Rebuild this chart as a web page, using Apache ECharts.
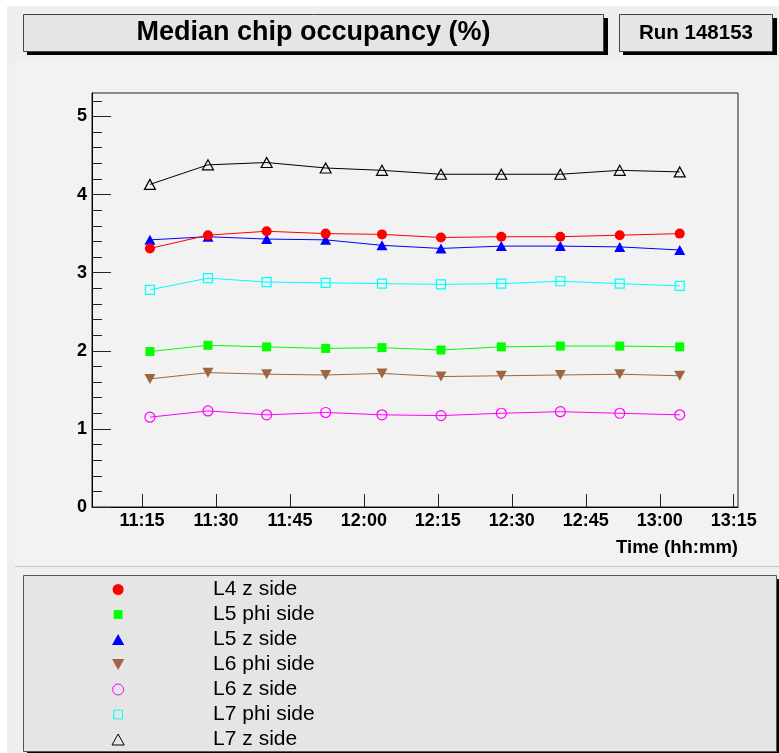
<!DOCTYPE html>
<html>
<head>
<meta charset="utf-8">
<title>Median chip occupancy (%)</title>
<script src="https://cdn.jsdelivr.net/npm/echarts@6/dist/echarts.min.js"></script>
<style>
  html, body { margin: 0; padding: 0; background: #ffffff; }
  #chart { width: 779px; height: 753px; }
</style>
</head>
<body>
<div id="chart"></div>
<script>
// Sampling times (hh:mm:ss) of the monitoring runs
const sampleTimes = ['11:16:37', '11:28:23', '11:40:17', '11:52:15', '12:03:40',
                     '12:15:38', '12:27:52', '12:39:50', '12:51:53', '13:04:03'];

// Median chip occupancy (%) per layer/side
const l4zSide   = [3.31, 3.48, 3.53, 3.50, 3.49, 3.45, 3.46, 3.46, 3.48, 3.50];
const l5phiSide = [1.99, 2.07, 2.05, 2.03, 2.04, 2.01, 2.05, 2.06, 2.06, 2.05];
const l5zSide   = [3.42, 3.46, 3.43, 3.42, 3.35, 3.31, 3.34, 3.34, 3.33, 3.29];
const l6phiSide = [1.64, 1.72, 1.70, 1.69, 1.71, 1.67, 1.68, 1.69, 1.70, 1.68];
const l6zSide   = [1.15, 1.23, 1.18, 1.21, 1.18, 1.17, 1.20, 1.22, 1.20, 1.18];
const l7phiSide = [2.78, 2.93, 2.88, 2.87, 2.86, 2.85, 2.86, 2.89, 2.86, 2.83];
const l7zSide   = [4.13, 4.38, 4.41, 4.34, 4.31, 4.26, 4.26, 4.26, 4.31, 4.29];

const seriesNames = ['L4 z side', 'L5 phi side', 'L5 z side', 'L6 phi side',
                     'L6 z side', 'L7 phi side', 'L7 z side'];

// Axis tick labels
const xTickLabels = ['11:15', '11:30', '11:45', '12:00', '12:15', '12:30', '12:45', '13:00', '13:15'];
const yTickLabels = [0, 1, 2, 3, 4, 5];
const yMinorTicks = [0.2, 0.4, 0.6, 0.8, 1.2, 1.4, 1.6, 1.8, 2.2, 2.4, 2.6, 2.8,
                     3.2, 3.4, 3.6, 3.8, 4.2, 4.4, 4.6, 4.8, 5.2];
const xRange = ['11:04:52', '13:15:52'];
const yRange = [0, 5.3];

const FONT = '"Liberation Sans", Arial, Helvetica, sans-serif';

function toMinutes(s) {
  const p = s.split(':').map(Number);
  return p[0] * 60 + p[1] + (p[2] || 0) / 60;
}
function fmtTime(v) {
  const m = Math.round(v);
  const h = Math.floor(m / 60);
  const mm = m % 60;
  return h + ':' + (mm < 10 ? '0' : '') + mm;
}

const xs = sampleTimes.map(toMinutes);
const pairs = vals => vals.map((v, i) => [xs[i], v]);

// Marker shapes
const UP_TRI = 'path://M5,0 L10,9 L0,9 Z';
const DOWN_TRI = 'path://M0,0 L10,0 L5,9 Z';
const SMALL_SQ = 'path://M0,0 M10,10 M1,1 L9,1 L9,9 L1,9 Z';

// Marker style for each series
const styles = [
  { data: l4zSide,   color: '#ff0000', symbol: 'circle', size: 10,       hollow: false, legendIcon: 'circle' },
  { data: l5phiSide, color: '#00ff00', symbol: 'rect',   size: 9,        hollow: false, legendIcon: SMALL_SQ },
  { data: l5zSide,   color: '#0000ff', symbol: UP_TRI,   size: [11, 10], hollow: false, legendIcon: UP_TRI },
  { data: l6phiSide, color: '#9e653f', symbol: DOWN_TRI, size: [11, 10], hollow: false, legendIcon: DOWN_TRI },
  { data: l6zSide,   color: '#ff00ff', symbol: 'circle', size: 10,       hollow: true,  legendIcon: 'circle' },
  { data: l7phiSide, color: '#00ffff', symbol: 'rect',   size: 9,        hollow: true,  legendIcon: SMALL_SQ },
  { data: l7zSide,   color: '#000000', symbol: UP_TRI,   size: [11, 10], hollow: true,  legendIcon: UP_TRI }
];

const series = styles.map((s, i) => ({
  name: seriesNames[i],
  type: 'line',
  xAxisIndex: 0,
  yAxisIndex: 0,
  data: pairs(s.data),
  symbol: s.symbol,
  symbolSize: s.size,
  showAllSymbol: true,
  lineStyle: { color: s.color, width: 1 },
  itemStyle: s.hollow
    ? { color: 'rgba(0,0,0,0)', borderColor: s.color, borderWidth: 1.2 }
    : { color: s.color, borderWidth: 0 },
  emphasis: { disabled: true },
  z: 3 + (6 - i)
}));

const legendData = styles.map((s, i) => ({
  name: seriesNames[i],
  icon: s.legendIcon,
  itemStyle: s.hollow
    ? { color: 'rgba(0,0,0,0)', borderColor: s.color, borderWidth: 1 }
    : { color: s.color, borderWidth: 0 }
}));

// Panel frames drawn behind the plot
const frames = [
  { type: 'rect', shape: { x: 0, y: 0, width: 779, height: 753 }, style: { fill: '#ffffff' } },
  { type: 'rect', shape: { x: 7, y: 6, width: 772, height: 747 }, style: { fill: '#efefef' } },
  { type: 'rect', shape: { x: 15, y: 62, width: 764, height: 505 }, style: { fill: '#f2f2f2' } },
  { type: 'line', shape: { x1: 15, y1: 566.5, x2: 779, y2: 566.5 }, style: { stroke: '#c8c8c8', lineWidth: 1 } },
  // title box
  { type: 'rect', shape: { x: 27, y: 18, width: 581, height: 37 }, style: { fill: '#000000' } },
  { type: 'rect', shape: { x: 23.5, y: 14.5, width: 580, height: 37 }, style: { fill: '#e5e5e5', stroke: '#444444', lineWidth: 1 } },
  // run box
  { type: 'rect', shape: { x: 623, y: 18, width: 154, height: 37 }, style: { fill: '#000000' } },
  { type: 'rect', shape: { x: 619.5, y: 14.5, width: 153, height: 37 }, style: { fill: '#e5e5e5', stroke: '#444444', lineWidth: 1 } },
  // legend box
  { type: 'rect', shape: { x: 27, y: 579, width: 755, height: 178 }, style: { fill: '#000000' } },
  { type: 'rect', shape: { x: 23.5, y: 575.5, width: 753, height: 176 }, style: { fill: '#e5e5e5', stroke: '#555555', lineWidth: 1 } }
].map(e => Object.assign({ silent: true, z: -10 }, e));

const option = {
  animation: false,
  backgroundColor: '#ffffff',
  textStyle: { fontFamily: FONT },
  graphic: { elements: frames },
  title: [
    { text: 'Median chip occupancy (%)', left: 313.5, top: 19.5, padding: 0,
      textAlign: 'center',
      textStyle: { fontFamily: FONT, fontSize: 27, fontWeight: 'bold', color: '#000', lineHeight: 27 } },
    { text: 'Run 148153', left: 696, top: 23, padding: 0, textAlign: 'center',
      textStyle: { fontFamily: FONT, fontSize: 20.5, fontWeight: 'bold', color: '#000', lineHeight: 20 } },
    { text: 'Time (hh:mm)', right: 41, top: 539, padding: 0,
      textStyle: { fontFamily: FONT, fontSize: 18.5, fontWeight: 'bold', color: '#000', lineHeight: 18 } }
  ],
  grid: {
    left: 92, top: 93, right: 41, bottom: 246,
    show: true, borderColor: '#222', borderWidth: 1, backgroundColor: 'transparent',
    containLabel: false
  },
  legend: {
    show: true,
    data: legendData,
    orient: 'vertical',
    // the content box starts at the icon's left edge; icons are centred in itemWidth
    left: 111.5, top: 579,
    padding: 0,
    itemWidth: 180, itemHeight: 11, itemGap: 4,
    selectedMode: false,
    symbolKeepAspect: true,
    textStyle: { fontFamily: FONT, fontSize: 21, color: '#000', lineHeight: 21 }
  },
  xAxis: [{
    type: 'value',
    min: toMinutes(xRange[0]),
    max: toMinutes(xRange[1]),
    axisLine: { show: true, onZero: false, lineStyle: { color: '#000', width: 1 } },
    axisTick: { show: true, inside: true, length: 13, customValues: xTickLabels.map(toMinutes),
                lineStyle: { color: '#222', width: 1 } },
    axisLabel: { show: true, customValues: xTickLabels.map(toMinutes), formatter: fmtTime, margin: 5,
                 fontFamily: FONT, fontSize: 18, fontWeight: 'bold', color: '#000' },
    splitLine: { show: false }
  }],
  yAxis: [{
    type: 'value',
    min: yRange[0], max: yRange[1],
    axisLine: { show: true, onZero: false, lineStyle: { color: '#000', width: 1 } },
    axisTick: { show: true, inside: true, length: 19, customValues: yTickLabels,
                lineStyle: { color: '#222', width: 1 } },
    axisLabel: { show: true, customValues: yTickLabels, margin: 5,
                 fontFamily: FONT, fontSize: 18, fontWeight: 'bold', color: '#000' },
    splitLine: { show: false }
  }, {
    type: 'value',
    position: 'left',
    min: yRange[0], max: yRange[1],
    axisLine: { show: false },
    axisTick: { show: true, inside: true, length: 10, customValues: yMinorTicks,
                lineStyle: { color: '#222', width: 1 } },
    axisLabel: { show: false },
    splitLine: { show: false }
  }],
  series: series
};

const chart = echarts.init(document.getElementById('chart'), null, { renderer: 'canvas' });
chart.setOption(option);
</script>
</body>
</html>
